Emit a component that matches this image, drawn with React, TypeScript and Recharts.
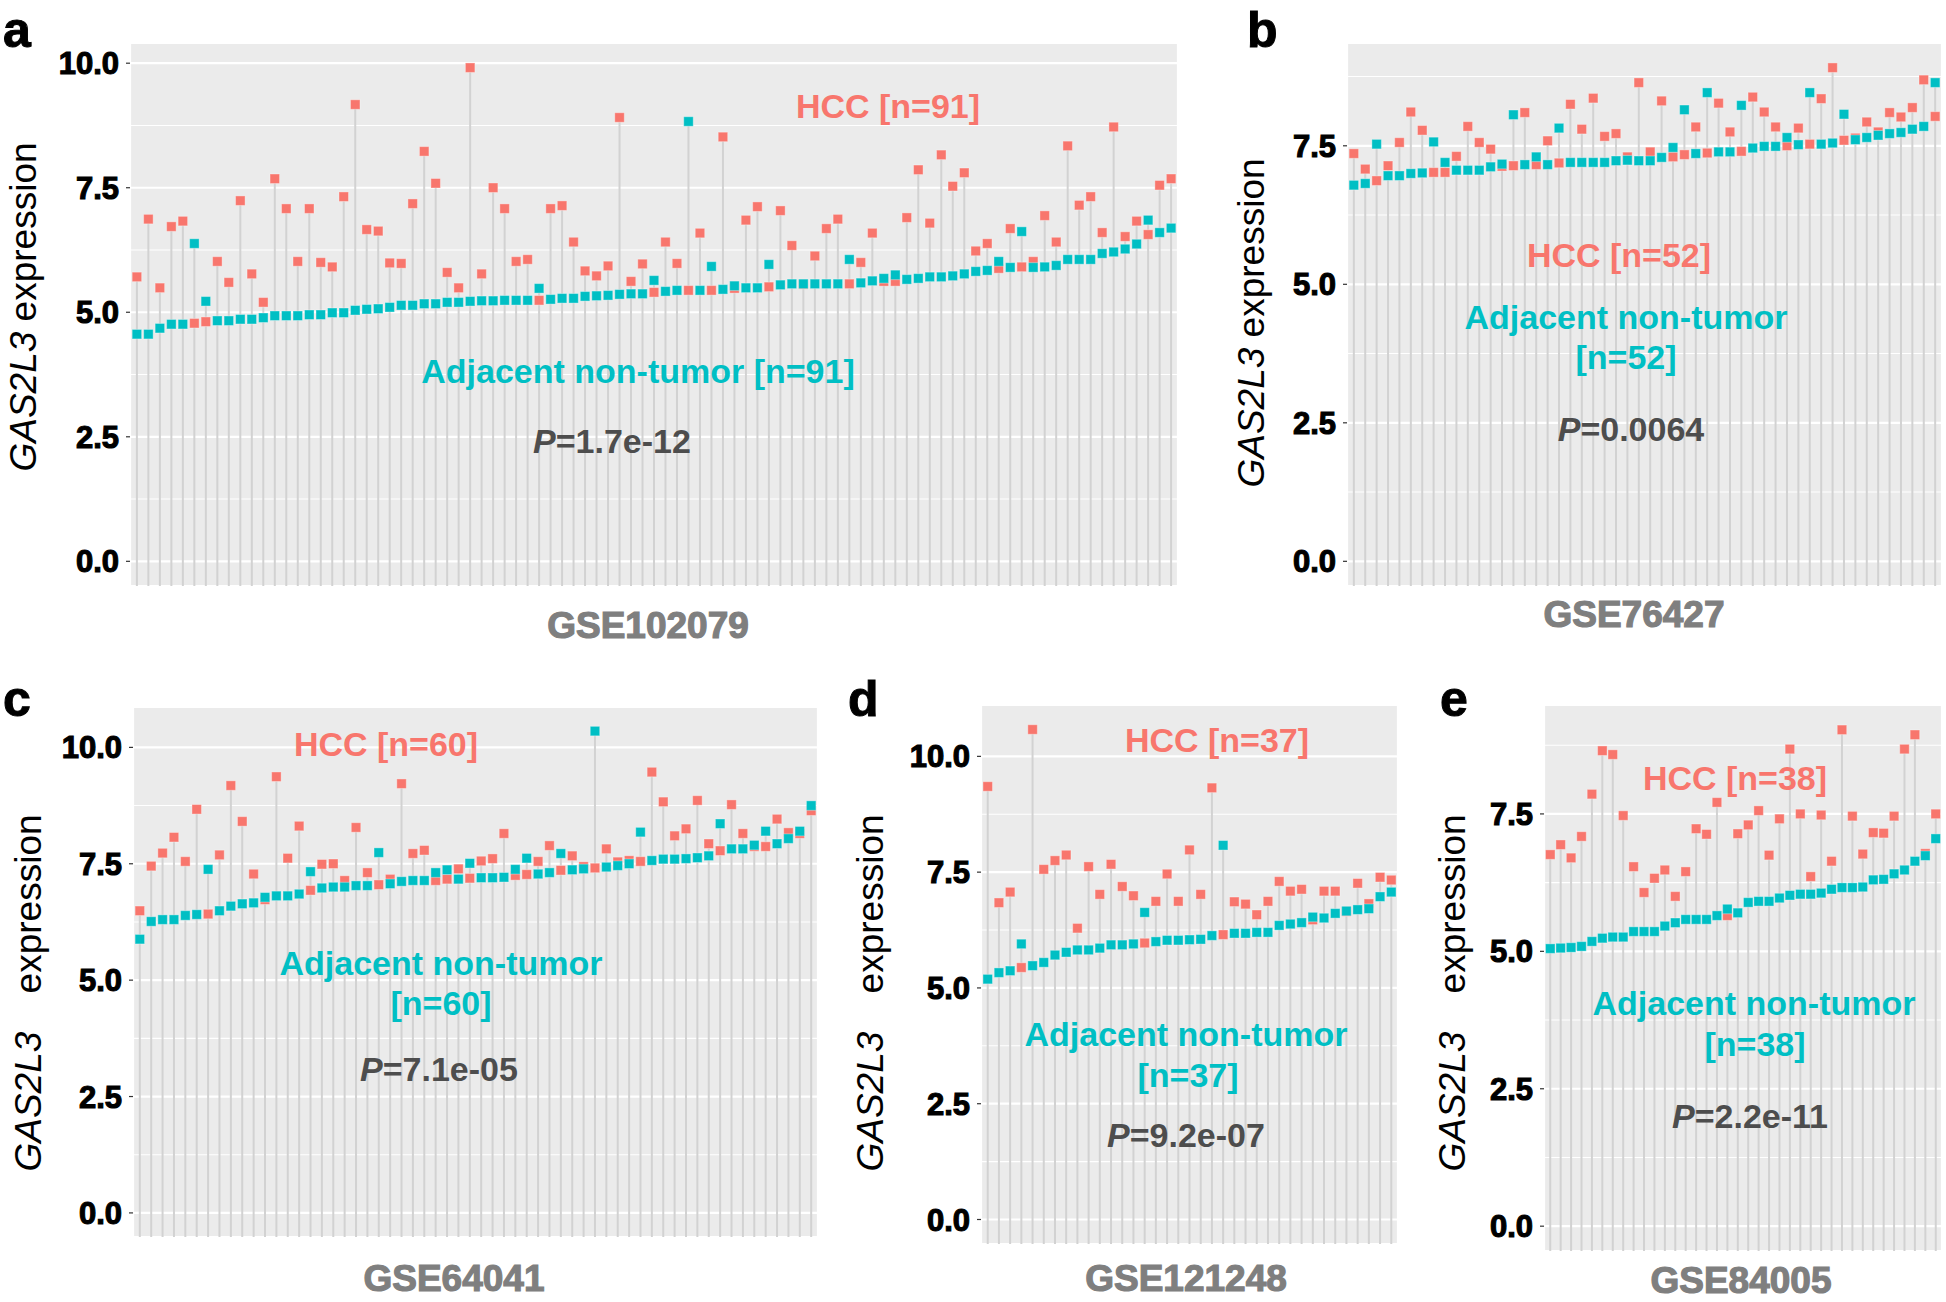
import React from 'react';
import { ComposedChart, Scatter, XAxis, YAxis, CartesianGrid, ErrorBar } from 'recharts';

const HCC_COLOR = '#F8766D';
const ADJ_COLOR = '#00BFC4';
const FONT = 'Liberation Sans, Arial, sans-serif';

// GSE102079 (n=91)
const hccA = [
  5.71, 6.87, 5.49, 6.72, 6.83, 4.78, 4.81, 6.02, 5.6, 7.24, 5.77, 5.2, 7.68, 7.08, 6.02, 7.08, 6.0, 5.91, 7.32, 9.17,
  6.66, 6.63, 5.99, 5.98, 7.18, 8.23, 7.59, 5.8, 5.49, 9.91, 5.77, 7.5, 7.08, 6.02, 6.06, 5.24, 7.08, 7.14, 6.41, 5.83,
  5.73, 5.93, 8.91, 5.62, 5.97, 5.4, 6.41, 5.98, 5.44, 6.59, 5.44, 8.52, 5.48, 6.85, 7.12, 5.51, 7.04, 6.34, 5.56, 6.13,
  6.68, 6.87, 5.57, 6.0, 6.59, 5.62, 5.62, 6.9, 7.86, 6.79, 8.16, 7.53, 7.8, 6.23, 6.38, 5.88, 6.68, 5.91, 6.02, 6.94,
  6.41, 8.34, 7.15, 7.32, 6.6, 8.72, 6.52, 6.83, 6.56, 7.55, 7.68,
];
const adjA = [
  4.56, 4.56, 4.68, 4.76, 4.76, 6.38, 5.22, 4.83, 4.83, 4.86, 4.86, 4.89, 4.93, 4.93, 4.93, 4.95, 4.95, 4.99, 4.99, 5.04,
  5.06, 5.07, 5.1, 5.14, 5.14, 5.17, 5.17, 5.2, 5.2, 5.22, 5.23, 5.23, 5.24, 5.24, 5.24, 5.48, 5.26, 5.28, 5.28, 5.32,
  5.33, 5.34, 5.36, 5.37, 5.37, 5.64, 5.42, 5.44, 8.83, 5.44, 5.92, 5.46, 5.53, 5.49, 5.49, 5.96, 5.55, 5.57, 5.57, 5.57,
  5.57, 5.57, 6.06, 5.59, 5.63, 5.68, 5.75, 5.66, 5.68, 5.71, 5.71, 5.73, 5.77, 5.82, 5.84, 6.02, 5.9, 6.62, 5.9, 5.91,
  5.94, 6.06, 6.06, 6.06, 6.18, 6.21, 6.27, 6.37, 6.85, 6.6, 6.69,
];

// GSE76427 (n=52)
const hccB = [
  7.36, 7.08, 6.87, 7.14, 7.56, 8.11, 7.78, 7.02, 7.02, 7.31, 7.85, 7.56, 7.44, 7.13, 7.14, 8.1, 7.16, 7.59, 7.19, 8.25,
  7.8, 8.36, 7.67, 7.72, 7.3, 8.64, 7.39, 8.31, 7.3, 7.34, 7.84, 7.37, 8.27, 7.75, 7.4, 8.38, 8.11, 7.84, 7.5, 7.82,
  7.53, 8.35, 8.91, 7.6, 7.64, 7.93, 7.75, 8.1, 8.02, 8.19, 8.69, 8.03,
];
const adjB = [
  6.79, 6.82, 7.53, 6.96, 6.96, 7.0, 7.01, 7.57, 7.2, 7.06, 7.06, 7.06, 7.12, 7.17, 8.06, 7.16, 7.3, 7.16, 7.82, 7.2,
  7.2, 7.2, 7.2, 7.23, 7.24, 7.23, 7.23, 7.29, 7.47, 8.15, 7.36, 8.46, 7.39, 7.39, 8.23, 7.46, 7.49, 7.49, 7.65, 7.52,
  8.46, 7.53, 7.55, 8.07, 7.61, 7.65, 7.69, 7.72, 7.74, 7.8, 7.85, 8.64,
];

// GSE64041 (n=60)
const hccC = [
  6.49, 7.45, 7.73, 8.07, 7.55, 8.67, 6.42, 7.69, 9.18, 8.41, 7.28, 6.73, 9.37, 7.62, 8.31, 6.93, 7.49, 7.5, 7.14, 8.28,
  7.31, 7.05, 7.17, 9.22, 7.72, 7.79, 7.14, 7.17, 7.39, 7.19, 7.56, 7.61, 8.15, 7.25, 7.27, 7.55, 7.89, 7.36, 7.67, 7.44,
  7.41, 7.82, 7.54, 7.57, 7.55, 9.47, 8.83, 8.1, 8.25, 8.86, 7.93, 7.78, 8.77, 8.15, 7.87, 7.87, 8.46, 8.17, 8.15, 8.64,
];
const adjC = [
  5.88, 6.26, 6.3, 6.3, 6.39, 6.41, 7.38, 6.49, 6.59, 6.64, 6.66, 6.78, 6.81, 6.81, 6.85, 7.33, 6.98, 7.0, 7.0, 7.03,
  7.03, 7.74, 7.07, 7.12, 7.14, 7.14, 7.31, 7.37, 7.17, 7.51, 7.2, 7.2, 7.21, 7.38, 7.62, 7.28, 7.31, 7.72, 7.37, 7.39,
  10.35, 7.43, 7.46, 7.5, 8.18, 7.57, 7.6, 7.6, 7.61, 7.63, 7.67, 8.36, 7.82, 7.82, 7.9, 8.2, 7.93, 8.04, 8.2, 8.75,
];

// GSE121248 (n=37)
const hccD = [
  9.35, 6.84, 7.07, 5.44, 10.58, 7.56, 7.75, 7.87, 6.29, 7.62, 7.02, 7.67, 7.19, 6.99, 5.97, 6.87, 7.46, 6.87, 7.98, 7.02,
  9.32, 6.15, 6.86, 6.81, 6.58, 6.87, 7.3, 7.09, 7.13, 6.47, 7.09, 7.09, 6.65, 7.26, 6.82, 7.39, 7.33,
];
const adjD = [
  5.19, 5.33, 5.37, 5.95, 5.48, 5.55, 5.71, 5.77, 5.82, 5.82, 5.86, 5.93, 5.93, 5.95, 6.63, 6.0, 6.03, 6.03, 6.04, 6.05,
  6.13, 8.08, 6.18, 6.18, 6.2, 6.2, 6.35, 6.38, 6.41, 6.53, 6.51, 6.61, 6.66, 6.69, 6.71, 6.97, 7.07,
];

// GSE84005 (n=38)
const hccE = [
  6.76, 6.94, 6.7, 7.09, 7.86, 8.65, 8.58, 7.47, 6.54, 6.07, 6.33, 6.48, 6.0, 6.45, 7.23, 7.13, 7.71, 5.65, 7.14, 7.3,
  7.56, 6.75, 7.41, 8.68, 7.5, 6.36, 7.48, 6.64, 9.03, 7.46, 6.77, 7.16, 7.15, 7.46, 8.68, 8.94, 6.78, 7.5,
];
const adjE = [
  5.05, 5.06, 5.07, 5.09, 5.18, 5.24, 5.26, 5.26, 5.36, 5.36, 5.36, 5.46, 5.52, 5.58, 5.58, 5.58, 5.65, 5.77, 5.7, 5.89,
  5.91, 5.91, 5.97, 6.02, 6.04, 6.04, 6.06, 6.13, 6.16, 6.16, 6.17, 6.3, 6.31, 6.41, 6.48, 6.64, 6.74, 7.05,
];

const ticksTo10 = [0, 2.5, 5, 7.5, 10];
const ticksTo75 = [0, 2.5, 5, 7.5];
const minorTicks = [1.25, 3.75, 6.25, 8.75];

const square = (color: string) => (p: any) => (
  <rect
    x={p.cx - 4.75}
    y={p.cy - 4.75}
    width={9.5}
    height={9.5}
    fill={color}
    stroke="#ffffff"
    strokeOpacity={0.35}
    strokeWidth={1}
  />
);

interface PanelProps {
  hcc: number[];
  adj: number[];
  yTicks: number[];
  left: number;
  top: number;
  width: number;
  height: number;
  plot: { left: number; top: number; right: number; bottom: number };
}

const Panel = ({ hcc, adj, yTicks, left, top, width, height, plot }: PanelProps) => {
  const n = hcc.length;
  const peak = Math.max(...hcc, ...adj);
  const lo = -0.05 * peak;
  const hi = 1.05 * peak;
  const rows = hcc.map((h, i) => {
    const upper = Math.max(h, adj[i]);
    return { idx: i + 1, hcc: h, adj: adj[i], upper, stem: [upper - lo, 0] };
  });
  const xTicks = rows.map((r) => r.idx);
  const minor = minorTicks.filter((t) => t < hi);
  const xAxisH = 20;

  return (
    <div style={{ position: 'absolute', left, top }}>
      <ComposedChart
        width={width}
        height={height}
        margin={{ top: plot.top, right: width - plot.right, bottom: height - plot.bottom - xAxisH, left: 0 }}
      >
        <CartesianGrid fill="#EBEBEB" stroke="#FFFFFF" strokeWidth={2.2} />
        <CartesianGrid horizontalValues={minor} vertical={false} stroke="#FFFFFF" strokeWidth={1.1} fill="none" />
        <XAxis
          type="number"
          dataKey="idx"
          domain={[0.4, n + 0.6]}
          ticks={xTicks}
          interval={0}
          allowDataOverflow
          tick={false}
          tickSize={3}
          axisLine={false}
          tickLine={{ stroke: '#222222', strokeWidth: 1.5 }}
          height={xAxisH}
        />
        <YAxis
          type="number"
          domain={[lo, hi]}
          ticks={yTicks}
          allowDataOverflow
          width={plot.left}
          tickSize={4}
          tickMargin={7}
          axisLine={false}
          tickLine={{ stroke: '#333333', strokeWidth: 1.2 }}
          tick={{ fill: '#000000', stroke: '#000000', strokeWidth: 1.1, fontSize: 31, fontWeight: 'bold', fontFamily: FONT }}
          tickFormatter={(v: number) => v.toFixed(1)}
        />
        <Scatter data={rows} dataKey="upper" shape={() => <g />} isAnimationActive={false}>
          <ErrorBar dataKey="stem" direction="y" width={0} stroke="#D2D2D2" strokeWidth={2} />
        </Scatter>
        <Scatter data={rows} dataKey="hcc" shape={square(HCC_COLOR)} isAnimationActive={false} />
        <Scatter data={rows} dataKey="adj" shape={square(ADJ_COLOR)} isAnimationActive={false} />
      </ComposedChart>
    </div>
  );
};

const noteStyle = { fontFamily: FONT, fontSize: 34, fontWeight: 'bold' as const };

const Note = ({ x, y, color, children }: { x: number; y: number; color: string; children: React.ReactNode }) => (
  <text x={x} y={y} textAnchor="middle" fill={color} style={noteStyle}>
    {children}
  </text>
);

const PValue = ({ x, y, value }: { x: number; y: number; value: string }) => (
  <text x={x} y={y} textAnchor="middle" fill="#4D4D4D" style={noteStyle}>
    <tspan fontStyle="italic">P</tspan>
    {`=${value}`}
  </text>
);

const YTitle = ({ x, y, gap }: { x: number; y: number; gap: number }) => (
  <text
    transform={`translate(${x},${y}) rotate(-90)`}
    textAnchor="middle"
    fill="#000000"
    style={{ fontFamily: FONT, fontSize: 37 }}
  >
    <tspan fontStyle="italic">GAS2L3</tspan>
    <tspan dx={gap}> expression</tspan>
  </text>
);

const XTitle = ({ x, y, label }: { x: number; y: number; label: string }) => (
  <text
    x={x}
    y={y}
    textAnchor="middle"
    fill="#7F7F7F"
    stroke="#7F7F7F"
    strokeWidth={1.2}
    style={{ fontFamily: FONT, fontSize: 37, fontWeight: 'bold' }}
  >
    {label}
  </text>
);

const Tag = ({ x, y, label }: { x: number; y: number; label: string }) => (
  <text x={x} y={y} fill="#000000" stroke="#000000" strokeWidth={1} style={{ fontFamily: FONT, fontSize: 50, fontWeight: 'bold' }}>
    {label}
  </text>
);

export default function App() {
  return (
    <div style={{ position: 'absolute', left: 0, top: 0, width: 1946, height: 1302, background: '#ffffff', overflow: 'hidden' }}>
      <Panel hcc={hccA} adj={adjA} yTicks={ticksTo10} left={0} top={0} width={1190} height={660}
        plot={{ left: 130, top: 43, right: 1178, bottom: 586 }} />
      <Panel hcc={hccB} adj={adjB} yTicks={ticksTo75} left={1200} top={0} width={746} height={660}
        plot={{ left: 147, top: 43, right: 742, bottom: 586 }} />
      <Panel hcc={hccC} adj={adjC} yTicks={ticksTo10} left={0} top={680} width={830} height={622}
        plot={{ left: 133, top: 27, right: 818, bottom: 557 }} />
      <Panel hcc={hccD} adj={adjD} yTicks={ticksTo10} left={840} top={680} width={570} height={622}
        plot={{ left: 141, top: 25, right: 558, bottom: 564 }} />
      <Panel hcc={hccE} adj={adjE} yTicks={ticksTo75} left={1420} top={680} width={526} height={622}
        plot={{ left: 124, top: 25, right: 522, bottom: 571 }} />

      <svg width={1946} height={1302} style={{ position: 'absolute', left: 0, top: 0, pointerEvents: 'none' }}>
        <Tag x={3} y={47} label="a" />
        <Tag x={1247} y={47} label="b" />
        <Tag x={3} y={716} label="c" />
        <Tag x={848} y={716} label="d" />
        <Tag x={1440} y={716} label="e" />

        <YTitle x={36} y={307} gap={0} />
        <YTitle x={1264} y={323} gap={0} />
        <YTitle x={41} y={993} gap={28} />
        <YTitle x={883} y={993} gap={28} />
        <YTitle x={1465} y={993} gap={28} />

        <XTitle x={648} y={638} label="GSE102079" />
        <XTitle x={1634} y={627} label="GSE76427" />
        <XTitle x={454} y={1291} label="GSE64041" />
        <XTitle x={1186} y={1291} label="GSE121248" />
        <XTitle x={1741} y={1293} label="GSE84005" />

        <Note x={888} y={118} color={HCC_COLOR}>HCC [n=91]</Note>
        <Note x={638} y={383} color={ADJ_COLOR}>Adjacent non-tumor [n=91]</Note>
        <PValue x={612} y={453} value="1.7e-12" />

        <Note x={1619} y={267} color={HCC_COLOR}>HCC [n=52]</Note>
        <Note x={1626} y={329} color={ADJ_COLOR}>Adjacent non-tumor</Note>
        <Note x={1626} y={369} color={ADJ_COLOR}>[n=52]</Note>
        <PValue x={1631} y={441} value="0.0064" />

        <Note x={386} y={756} color={HCC_COLOR}>HCC [n=60]</Note>
        <Note x={441} y={975} color={ADJ_COLOR}>Adjacent non-tumor</Note>
        <Note x={441} y={1015} color={ADJ_COLOR}>[n=60]</Note>
        <PValue x={439} y={1081} value="7.1e-05" />

        <Note x={1217} y={752} color={HCC_COLOR}>HCC [n=37]</Note>
        <Note x={1186} y={1046} color={ADJ_COLOR}>Adjacent non-tumor</Note>
        <Note x={1188} y={1087} color={ADJ_COLOR}>[n=37]</Note>
        <PValue x={1186} y={1147} value="9.2e-07" />

        <Note x={1735} y={790} color={HCC_COLOR}>HCC [n=38]</Note>
        <Note x={1754} y={1015} color={ADJ_COLOR}>Adjacent non-tumor</Note>
        <Note x={1755} y={1056} color={ADJ_COLOR}>[n=38]</Note>
        <PValue x={1750} y={1128} value="2.2e-11" />
      </svg>
    </div>
  );
}
